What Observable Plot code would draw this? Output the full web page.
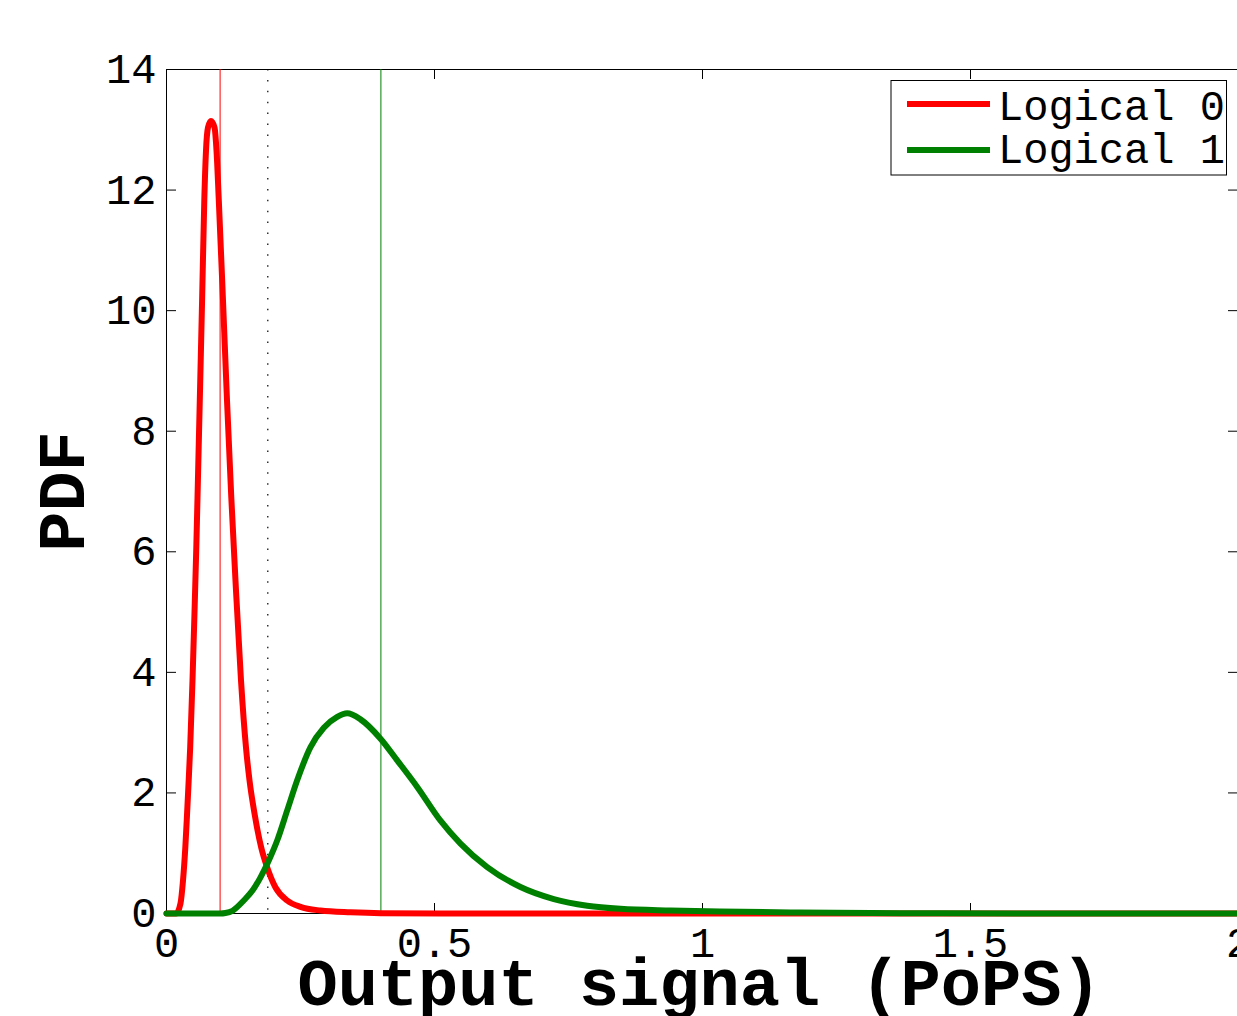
<!DOCTYPE html>
<html><head><meta charset="utf-8">
<script src="https://cdn.jsdelivr.net/npm/d3@7"></script>
<script src="https://cdn.jsdelivr.net/npm/@observablehq/plot@0.6"></script>
<style>
html,body{margin:0;padding:0;background:#fff;overflow:hidden;}
#chart{position:relative;width:1240px;height:1016px;}
</style></head><body><div id="chart"></div>
<script>
// ---- data ----
const xTicks = [0, 0.5, 1, 1.5, 2];
const xTickLabels = ["0", "0.5", "1", "1.5", "2"];
const yTicks = [0, 2, 4, 6, 8, 10, 12, 14];
const yTickLabels = ["0", "2", "4", "6", "8", "10", "12", "14"];
const seriesNames = ["Logical 0", "Logical 1"];
const seriesColors = ["#ff0000", "#008000"];
const xLabel = "Output signal (PoPS)";
const yLabel = "PDF";

// Logical 0 (red) PDF
const redX = [0, 0.018, 0.0261, 0.0308, 0.0351, 0.0384, 0.0414, 0.0442, 0.0485, 0.0522, 0.0556, 0.0586, 0.0621, 0.0664, 0.0705, 0.0737, 0.0774, 0.083, 0.0896, 0.0933, 0.0976, 0.1054, 0.1129, 0.1209, 0.1287, 0.139, 0.1483, 0.1549, 0.1642, 0.1767, 0.1879, 0.2034, 0.2252, 0.25, 0.2873, 0.3433, 0.4, 0.511, 1.0, 1.5, 2.0];
const redY = [0, 0, 0.166, 0.547, 1.095, 1.659, 2.206, 2.754, 3.865, 4.976, 6.071, 7.182, 8.509, 10.168, 11.827, 12.656, 13.038, 13.146, 13.038, 12.656, 11.827, 10.168, 8.509, 6.9, 5.524, 3.865, 2.754, 2.206, 1.659, 1.095, 0.763, 0.431, 0.216, 0.11, 0.05, 0.02, 0.005, 0, 0, 0, 0];

// Logical 1 (green) PDF
const greenX = [0, 0.05, 0.1, 0.11, 0.1231, 0.1442, 0.1604, 0.1754, 0.1909, 0.2065, 0.2252, 0.2438, 0.2687, 0.2935, 0.3185, 0.3371, 0.3619, 0.3993, 0.4304, 0.4677, 0.5112, 0.5485, 0.5983, 0.6604, 0.7226, 0.7849, 0.847, 0.9403, 1.0336, 1.18, 1.37, 1.6, 2.0];
const greenY = [0, 0, 0, 0.008, 0.045, 0.216, 0.38, 0.6, 0.88, 1.21, 1.71, 2.21, 2.76, 3.08, 3.26, 3.32, 3.22, 2.9, 2.54, 2.1, 1.54, 1.16, 0.77, 0.44, 0.24, 0.13, 0.078, 0.05, 0.033, 0.017, 0.005, 0, 0];

// vertical reference lines
const meanLines = [0.1, 0.4];          // red, green
const meanLineColors = ["#ff0000", "#008000"];
const thresholdLine = [0.189];

// ---- layout ----
const W = 1240, H = 1016, ML = 166, MR = 2, MT = 69, MB = 103;
const plotW = W - ML - MR, plotH = H - MT - MB;
const tickLen = 10;
const tickFont = "'Courier New', Courier, 'Nimbus Mono PS', 'Nimbus Mono L', FreeMono, 'Liberation Mono', monospace";

const red = redX.map((x, i) => ({x, y: redY[i]}));
const green = greenX.map((x, i) => ({x, y: greenY[i]}));
const means = meanLines.map((x, i) => ({x, c: meanLineColors[i]}));

const svg = Plot.plot({
  width: W, height: H,
  marginLeft: ML, marginRight: MR, marginTop: MT, marginBottom: MB,
  style: {fontFamily: tickFont, fontSize: "42px", color: "black", background: "white", overflow: "visible"},
  x: {domain: [0, 2]},
  y: {domain: [0, 14]},
  marks: [
    Plot.frame({stroke: "black", strokeWidth: 1}),
    Plot.tickY(yTicks, {y: d => d, insetRight: plotW - tickLen, stroke: "black"}),
    Plot.tickY(yTicks, {y: d => d, insetLeft: plotW - tickLen, stroke: "black"}),
    Plot.tickX(xTicks, {x: d => d, insetTop: plotH - tickLen, stroke: "black"}),
    Plot.tickX(xTicks, {x: d => d, insetBottom: plotH - tickLen, stroke: "black"}),
    Plot.axisY(yTicks, {tickSize: 0, tickPadding: 10, label: null, fontSize: 42, fontFamily: tickFont,
      tickFormat: d => yTickLabels[yTicks.indexOf(d)]}),
    Plot.axisX(xTicks, {tickSize: 0, tickPadding: 14, label: null, fontSize: 42, fontFamily: tickFont,
      tickFormat: d => xTickLabels[xTicks.indexOf(d)]}),
    Plot.ruleX(means, {x: "x", stroke: "c", strokeWidth: 1}),
    Plot.ruleX(thresholdLine, {x: d => d, stroke: "black", strokeWidth: 1.2, strokeDasharray: "1.5,9.4"}),
    Plot.line(red, {x: "x", y: "y", stroke: seriesColors[0], strokeWidth: 6, curve: "monotone-x"}),
    Plot.line(green, {x: "x", y: "y", stroke: seriesColors[1], strokeWidth: 6, curve: "monotone-x"}),
    Plot.text([yLabel], {frameAnchor: "left", textAnchor: "middle", dx: -83, rotate: -90, lineAnchor: "bottom",
      fontWeight: "bold", fontSize: 67, fontFamily: tickFont}),
    Plot.text([xLabel], {frameAnchor: "bottom", textAnchor: "middle", dx: -3, dy: 91, lineAnchor: "bottom",
      fontWeight: "bold", fontSize: 67, fontFamily: tickFont})
  ]
});

// ---- legend (inside axes, top right) ----
const lg = d3.select(svg).append("g").attr("font-family", tickFont).attr("font-size", 42)
  .attr("text-anchor", "start");
lg.append("rect").attr("x", 891).attr("y", 80.5).attr("width", 335.5).attr("height", 94.5)
  .attr("fill", "white").attr("stroke", "black").attr("stroke-width", 1);
seriesNames.forEach((name, i) => {
  const cy = 104 + i * 46;
  lg.append("line").attr("x1", 907).attr("x2", 990).attr("y1", cy).attr("y2", cy)
    .attr("stroke", seriesColors[i]).attr("stroke-width", 6);
  lg.append("text").attr("x", 998).attr("y", 120 + i * 43).attr("fill", "black")
    .attr("text-anchor", "start").text(name);
});

document.getElementById("chart").appendChild(svg);
</script>
</body></html>
